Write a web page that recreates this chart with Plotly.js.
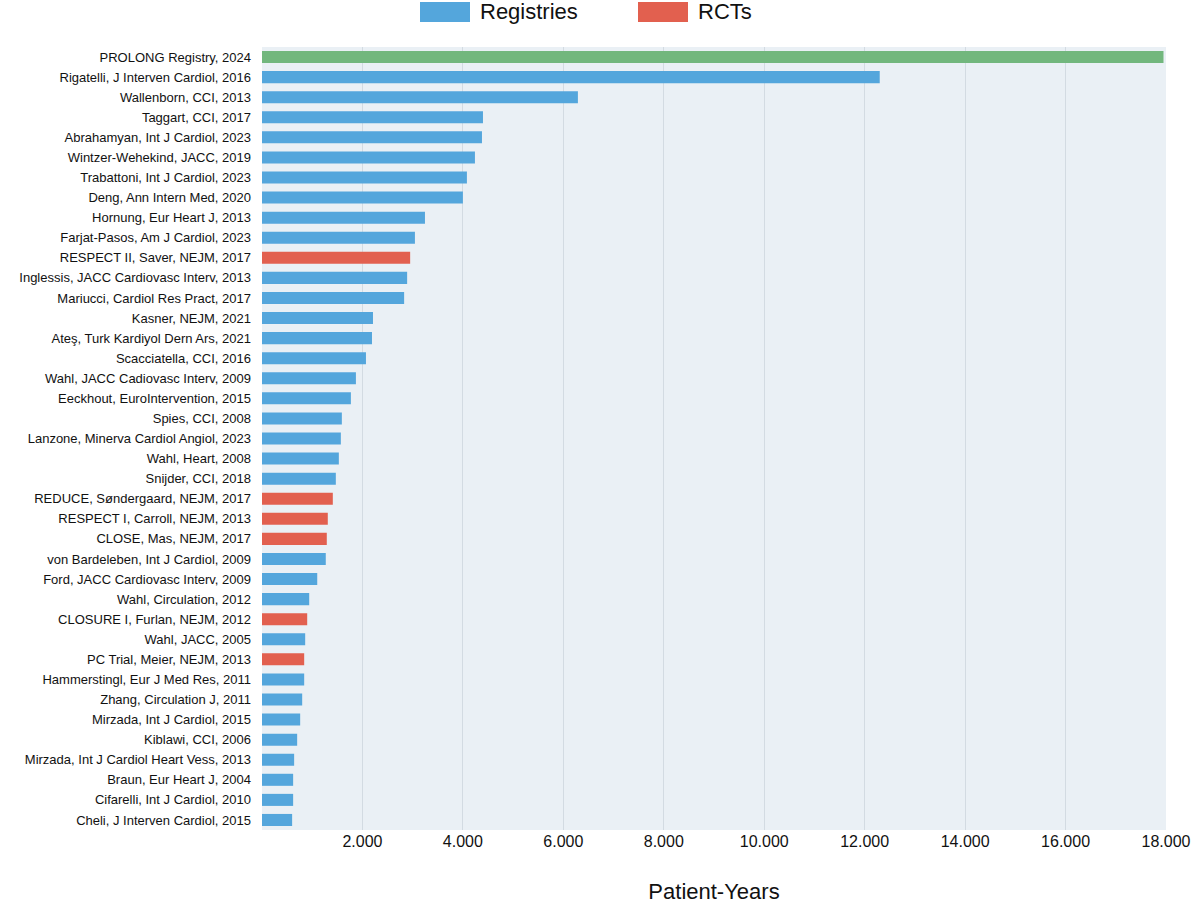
<!DOCTYPE html>
<html>
<head>
<meta charset="utf-8">
<script src="https://cdn.plot.ly/plotly-3.0.1.min.js"></script>
<style>body{margin:0;background:#fff}</style>
</head>
<body>
<div id="chart" style="width:1200px;height:904px"></div>
<script>
// studies top to bottom
const studies = ["PROLONG Registry, 2024", "Rigatelli, J Interven Cardiol, 2016", "Wallenborn, CCI, 2013", "Taggart, CCI, 2017",
  "Abrahamyan, Int J Cardiol, 2023", "Wintzer-Wehekind, JACC, 2019", "Trabattoni, Int J Cardiol, 2023", "Deng, Ann Intern Med, 2020",
  "Hornung, Eur Heart J, 2013", "Farjat-Pasos, Am J Cardiol, 2023", "RESPECT II, Saver, NEJM, 2017", "Inglessis, JACC Cardiovasc Interv, 2013",
  "Mariucci, Cardiol Res Pract, 2017", "Kasner, NEJM, 2021", "Ateş, Turk Kardiyol Dern Ars, 2021", "Scacciatella, CCI, 2016",
  "Wahl, JACC Cadiovasc Interv, 2009", "Eeckhout, EuroIntervention, 2015", "Spies, CCI, 2008", "Lanzone, Minerva Cardiol Angiol, 2023",
  "Wahl, Heart, 2008", "Snijder, CCI, 2018", "REDUCE, Søndergaard, NEJM, 2017", "RESPECT I, Carroll, NEJM, 2013",
  "CLOSE, Mas, NEJM, 2017", "von Bardeleben, Int J Cardiol, 2009", "Ford, JACC Cardiovasc Interv, 2009", "Wahl, Circulation, 2012",
  "CLOSURE I, Furlan, NEJM, 2012", "Wahl, JACC, 2005", "PC Trial, Meier, NEJM, 2013", "Hammerstingl, Eur J Med Res, 2011",
  "Zhang, Circulation J, 2011", "Mirzada, Int J Cardiol, 2015", "Kiblawi, CCI, 2006", "Mirzada, Int J Cardiol Heart Vess, 2013",
  "Braun, Eur Heart J, 2004", "Cifarelli, Int J Cardiol, 2010", "Cheli, J Interven Cardiol, 2015"];
const patientYears = [17950, 12300, 6290, 4400, 4380, 4240, 4080, 4000, 3245, 3045, 2950, 2890, 2830, 2210, 2190, 2070,
  1870, 1770, 1590, 1570, 1530, 1470, 1410, 1310, 1290, 1270, 1100, 940, 900, 860, 840, 840, 800, 760, 700, 640, 620, 620, 600];
// 'P' = PROLONG, 'R' = registry, 'T' = RCT
const studyType = ["P","R","R","R","R","R","R","R","R","R","T","R","R","R","R","R","R","R","R","R","R","R","T","T","T","R","R","R","T","R","T","R","R","R","R","R","R","R","R"];
const tickVals = [2000, 4000, 6000, 8000, 10000, 12000, 14000, 16000, 18000];
const tickText = ["2.000", "4.000", "6.000", "8.000", "10.000", "12.000", "14.000", "16.000", "18.000"];
const legendNames = ["Registries", "RCTs"];

const BLUE = '#54a6dc', RED = '#e2604f', GREEN = '#72b77d';

function pick(t){
  const y = [], x = [];
  studies.forEach((s, i) => { if (studyType[i] == t) { y.push(s); x.push(patientYears[i]); } });
  return {x, y};
}
function trace(t, name, color){
  const d = pick(t);
  return {type: 'bar', orientation: 'h', x: d.x, y: d.y, name: name, width: 0.6,
    marker: {color: color}, showlegend: false, hoverinfo: 'x+y'};
}

const data = [
  trace('R', legendNames[0], BLUE),
  trace('T', legendNames[1], RED),
  trace('P', 'PROLONG', GREEN)
];

// legend drawn by hand so the swatches can be large like the reference
const px = (p) => (p - 262) / 904;
const py = (p) => 1 + (47 - p) / 783;
const shapes = [
  {type: 'rect', xref: 'paper', yref: 'paper', x0: px(420), x1: px(470), y0: py(22), y1: py(2), fillcolor: BLUE, line: {width: 0}},
  {type: 'rect', xref: 'paper', yref: 'paper', x0: px(638), x1: px(688), y0: py(22), y1: py(2), fillcolor: RED, line: {width: 0}}
];
const annotations = [
  {xref: 'paper', yref: 'paper', x: px(478), y: py(12), xanchor: 'left', yanchor: 'middle', text: legendNames[0], showarrow: false, font: {size: 22}},
  {xref: 'paper', yref: 'paper', x: px(696), y: py(12), xanchor: 'left', yanchor: 'middle', text: legendNames[1], showarrow: false, font: {size: 22}}
];

const layout = {
  width: 1200, height: 904,
  margin: {l: 262, r: 34, t: 47, b: 74},
  barmode: 'overlay',
  plot_bgcolor: '#eaf0f5', paper_bgcolor: '#ffffff',
  font: {family: 'Liberation Sans, Arial, sans-serif', color: '#111', size: 13},
  showlegend: false,
  shapes: shapes, annotations: annotations,
  xaxis: {range: [0, 18000], tickvals: tickVals, ticktext: tickText, gridcolor: '#d3dbe2',
    zeroline: false, showline: false, tickfont: {size: 16}, ticks: '', automargin: false,
    title: {text: 'Patient-Years', font: {size: 22}, standoff: 34}},
  yaxis: {categoryorder: 'array', categoryarray: studies, automargin: false,
    showgrid: false, ticks: '', tickfont: {size: 13}, ticklabelstandoff: 10, range: [studies.length - 0.5, -0.5]}
};

Plotly.newPlot('chart', data, layout, {displayModeBar: false});
</script>
</body>
</html>
